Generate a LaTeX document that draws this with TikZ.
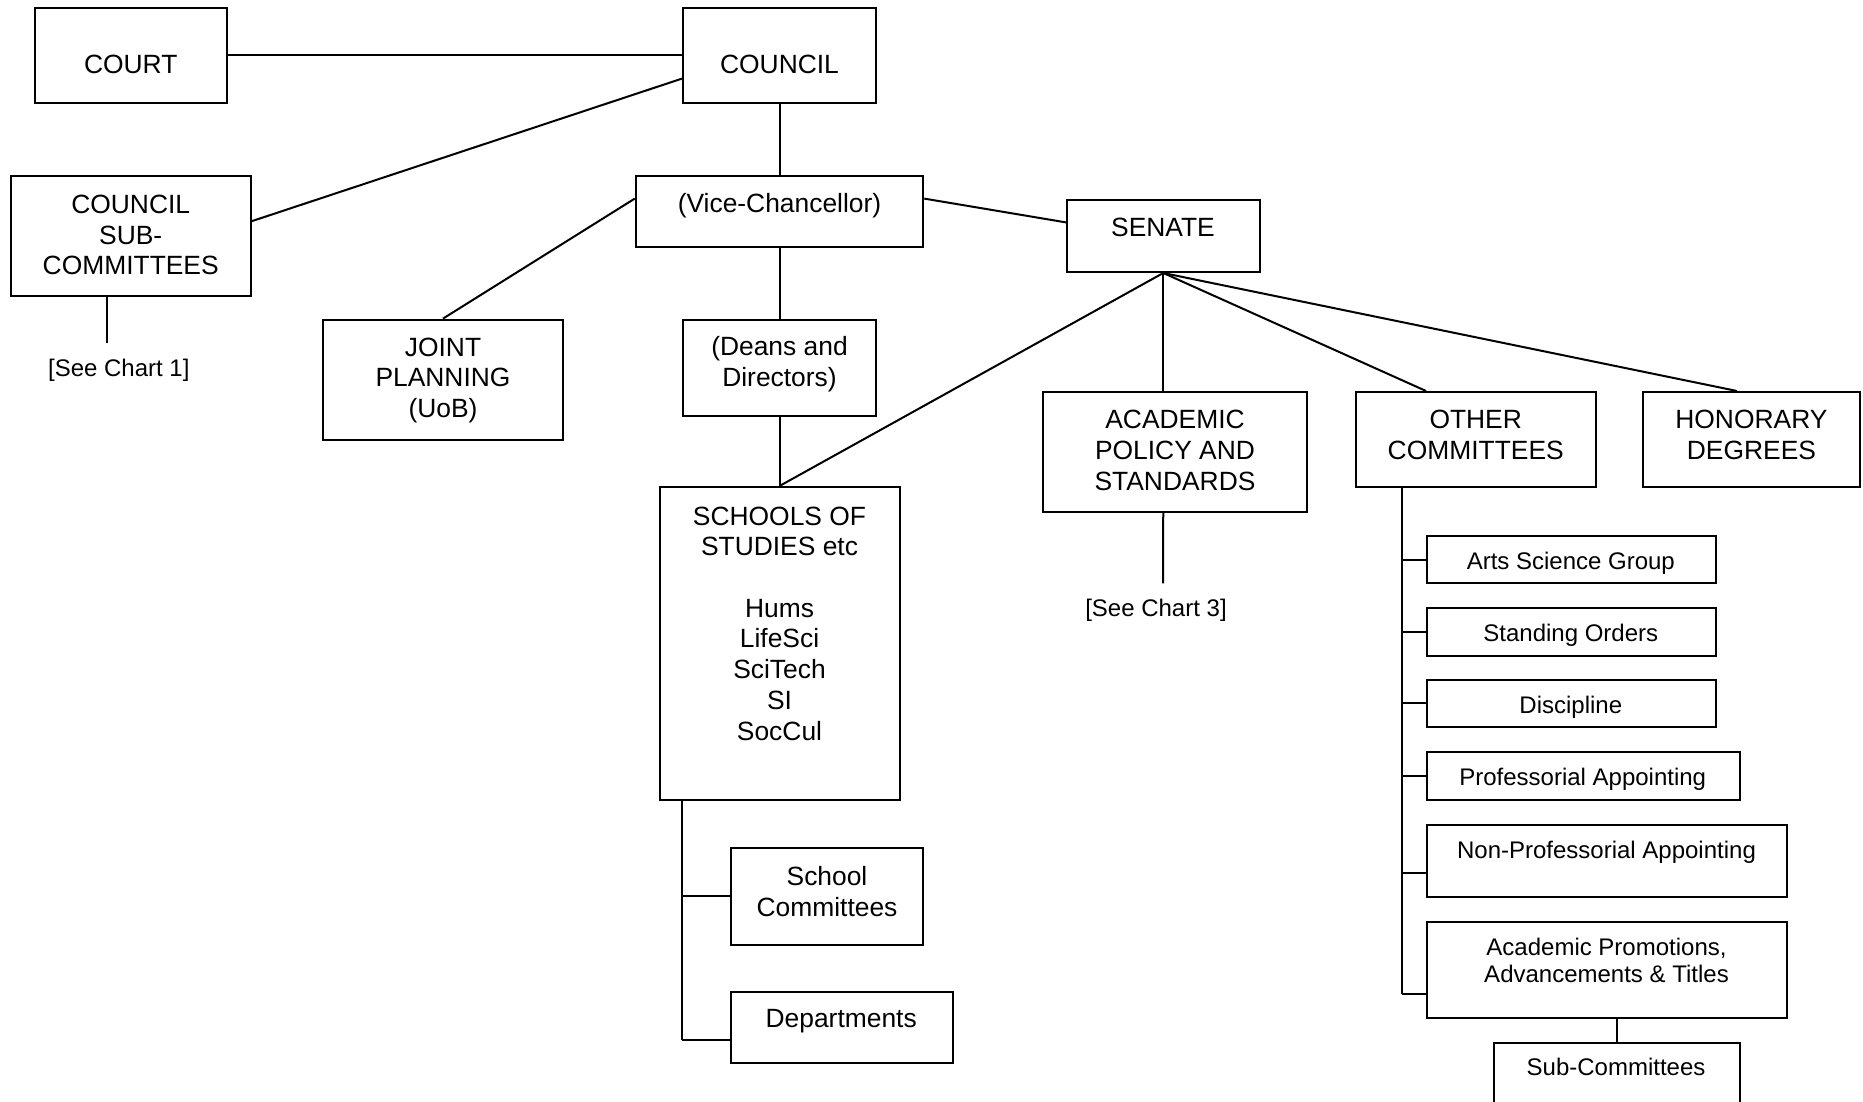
\documentclass[tikz,border=0pt]{standalone}
\usepackage{fontspec}
\setmainfont{Liberation Sans}
\usetikzlibrary{calc}
\begin{document}
\begin{tikzpicture}[x=1pt,y=-1pt,line width=2pt,
  box/.style={draw,line width=2pt,inner sep=0pt,rectangle},
  big/.style={font=\fontsize{26.4}{30.7}\selectfont,align=center,inner sep=0pt},
  small/.style={font=\fontsize{24}{27.3}\selectfont,align=center,inner sep=0pt},
  conn/.style={draw,line width=2pt}]
\clip (0,0) rectangle (1863,1102);
\fill[white] (0,0) rectangle (1863,1102);
% boxes
\node[box,minimum width=192.5pt,minimum height=95.1pt] (court) at (130.75,55.85) {};
\node[box,minimum width=193pt,minimum height=95.1pt] (council) at (779.5,55.85) {};
\node[box,minimum width=240pt,minimum height=120pt] (csub) at (130.7,235.9) {};
\node[box,minimum width=287.5pt,minimum height=71.2pt] (vc) at (779.5,211.5) {};
\node[box,minimum width=192.5pt,minimum height=72.4pt] (senate) at (1163.25,235.8) {};
\node[box,minimum width=240pt,minimum height=120pt] (joint) at (443,379.6) {};
\node[box,minimum width=193pt,minimum height=96.3pt] (deans) at (779.5,367.75) {};
\node[box,minimum width=240pt,minimum height=312.6pt] (schools) at (779.5,643.3) {};
\node[box,minimum width=264pt,minimum height=120pt] (acad) at (1175,452) {};
\node[box,minimum width=240pt,minimum height=95pt] (other) at (1475.75,439.5) {};
\node[box,minimum width=216.5pt,minimum height=95pt] (honor) at (1751.25,439.5) {};
\node[box,minimum width=288.7pt,minimum height=47.4pt] (arts) at (1571.35,559.7) {};
\node[box,minimum width=288.7pt,minimum height=48pt] (standing) at (1571.35,632) {};
\node[box,minimum width=288.7pt,minimum height=47.4pt] (disc) at (1571.35,703.3) {};
\node[box,minimum width=312.5pt,minimum height=47.6pt] (prof) at (1583.25,775.8) {};
\node[box,minimum width=360pt,minimum height=71.4pt] (nonprof) at (1607,861) {};
\node[box,minimum width=360pt,minimum height=96pt] (acprom) at (1607,969.5) {};
\node[box,minimum width=246pt,minimum height=80pt] (subc) at (1616.6,1083) {};
\node[box,minimum width=192.5pt,minimum height=96.6pt] (schcom) at (826.95,896.3) {};
\node[box,minimum width=222.3pt,minimum height=71.4pt] (depts) at (841.85,1027.7) {};
% texts
\node[big] (tcourt) at (130.7,64.2) {COURT};
\node[big] (tcouncil) at (779.5,64.2) {COUNCIL};
\node[big] (tcsub) at (130.7,235) {COUNCIL\\SUB-\\COMMITTEES};
\node[big] (tvc) at (779.5,205.5) {(Vice-Chancellor)};
\node[big] (tsenate) at (1163,227) {SENATE};
\node[big] (tjoint) at (443,380.5) {JOINT\\PLANNING\\(UoB)};
\node[big] (tdeans) at (779.5,364.5) {(Deans and\\Directors)};
\node[big] (tschools) at (779.5,623.5) {SCHOOLS OF\\STUDIES etc\\[30.7pt]Hums\\LifeSci\\SciTech\\SI\\SocCul};
\node[big] (tacad) at (1175,450.5) {ACADEMIC\\POLICY AND\\STANDARDS};
\node[big] (tother) at (1475.7,435) {OTHER\\COMMITTEES};
\node[big] (thonor) at (1751.4,435) {HONORARY\\DEGREES};
\node[small] (tarts) at (1570.8,563) {Arts Science Group};
\node[small] (tstanding) at (1570.8,635.5) {Standing Orders};
\node[small] (tdisc) at (1570.8,707) {Discipline};
\node[small] (tprof) at (1582.7,779.5) {Professorial Appointing};
\node[small] (tnonprof) at (1606.5,852) {Non-Professorial Appointing};
\node[small] (tacprom) at (1606.5,960.5) {Academic Promotions,\\Advancements \& Titles};
\node[small] (tsubc) at (1616,1066.5) {Sub-Committees};
\node[big] (tschcom) at (827,891.5) {School\\Committees};
\node[big] (tdepts) at (841.2,1021.5) {Departments};
\node[small] (chart1) at (118.8,370.5) {[See Chart 1]};
\node[small] (chart3) at (1156,610.5) {[See Chart 3]};
% connectors
\coordinate (c1end) at (107,343);
\coordinate (c3end) at (1163,583.4);
\draw[conn] ([yshift=1.3pt]court.east) -- ([yshift=1.3pt]court.east -| council.west);
\draw[conn] ([yshift=-71.3pt]council.north west) -- ([yshift=-46.3pt]csub.north east);
\draw[conn] (council.south) -- (council.south |- vc.north);
\draw[conn] ([yshift=-23.7pt]vc.north west) -- (joint.north);
\draw[conn] (vc.south) -- (vc.south |- deans.north);
\draw[conn] (deans.south) -- (deans.south |- schools.north);
\draw[conn] ([yshift=-23.7pt]vc.north east) -- ([yshift=-23.8pt]senate.north west);
\draw[conn] (senate.south) -- (schools.north);
\draw[conn] (senate.south) -- (senate.south |- acad.north);
\draw[conn] (senate.south) -- ([xshift=71.3pt]other.north west);
\draw[conn] (senate.south) -- ([xshift=95pt]honor.north west);
\draw[conn] (senate.south |- acad.south) -- (c3end);
\draw[conn] (c1end |- csub.south) -- (c1end);
% schools branches
\coordinate (strunk) at ([xshift=23.6pt]schools.south west);
\draw[conn] (strunk) -- (strunk |- 0,1040);
\draw[conn] (strunk |- schcom.west) -- (schcom.west);
\draw[conn] (strunk |- 0,1040) -- (depts.west |- 0,1040);
% other committees branches
\coordinate (otrunk) at ([xshift=47.3pt]other.south west);
\draw[conn] (otrunk) -- (otrunk |- 0,994);
\draw[conn] (otrunk |- arts.west) -- (arts.west);
\draw[conn] (otrunk |- standing.west) -- (standing.west);
\draw[conn] (otrunk |- disc.west) -- (disc.west);
\draw[conn] (otrunk |- prof.west) -- (prof.west);
\draw[conn] (otrunk |- 0,873) -- (nonprof.west |- 0,873);
\draw[conn] (otrunk |- 0,994) -- (acprom.west |- 0,994);
\draw[conn] (subc.north) -- (subc.north |- acprom.south);
\end{tikzpicture}
\end{document}
